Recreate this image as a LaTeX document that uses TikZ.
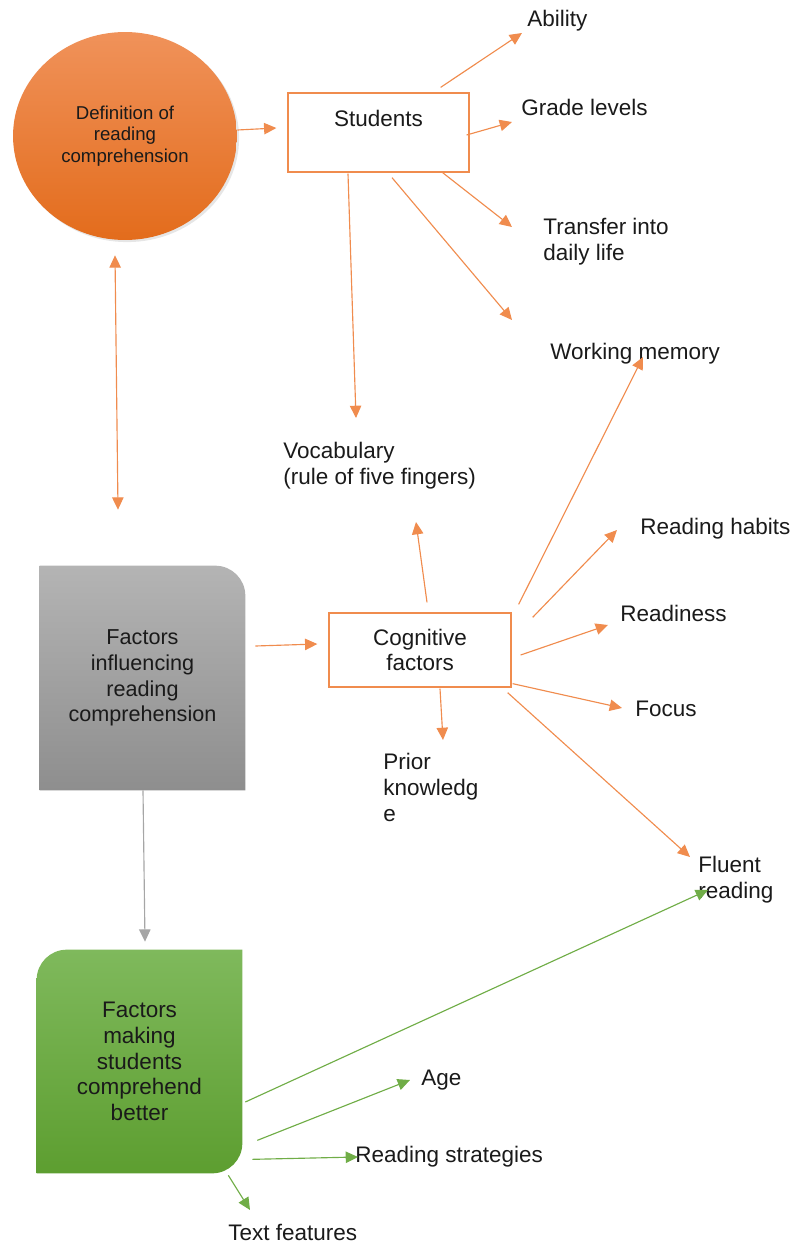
\documentclass[tikz,border=0pt]{standalone}
\usepackage{fontspec}
\setmainfont{Liberation Sans}
\usetikzlibrary{shapes.geometric,arrows.meta,calc,backgrounds,shadows}
\definecolor{RCOrange}   {HTML}{F08C4E}
\definecolor{RCOrangeTop}{HTML}{F0925A}
\definecolor{RCOrangeBot}{HTML}{E36C1C}
\definecolor{RCGrayTop}  {HTML}{B4B4B4}
\definecolor{RCGrayBot}  {HTML}{8E8E8E}
\definecolor{RCGreen}    {HTML}{70AD47}
\definecolor{RCGreenTop} {HTML}{7FB95C}
\definecolor{RCGreenBot} {HTML}{5D9E30}
\definecolor{RCLine}     {HTML}{A6A6A6}
\definecolor{RCText}     {HTML}{1A1A1A}

\begin{document}
\begin{tikzpicture}[x=0.02cm,y=-0.02cm,
    lbl/.style={font=\fontsize{12.8}{14.7}\selectfont,text=RCText,inner sep=0pt,anchor=west,align=left,yshift=-1.7pt},
    obox/.style={draw=RCOrange,line width=0.75pt,inner sep=0pt,font=\fontsize{12.8}{14.7}\selectfont,text=RCText,align=center},
    sbox/.style={inner sep=0pt,minimum width=4.1cm,text=RCText,align=center},
    oarr/.style={-{Triangle[length=7pt,width=6.5pt]},RCOrange,line width=0.65pt},
    garr/.style={-{Triangle[length=7pt,width=6.5pt]},RCGreen,line width=0.65pt},
    karr/.style={-{Triangle[length=7pt,width=6.5pt]},RCLine,line width=0.65pt}
  ]
    \useasboundingbox (0,0) rectangle (792,1245);

    \node[ellipse,minimum width=4.48cm,minimum height=4.16cm,inner sep=0pt,
      top color=RCOrangeTop,bottom color=RCOrangeBot,
      drop shadow={opacity=0.2,shadow xshift=1.2pt,shadow yshift=-1.2pt},
      font=\fontsize{10.6}{12.3}\selectfont,text=RCText,align=center]
      (defn) at (125,136) {Definition of\\reading\\comprehension};
    \node[obox,minimum width=3.62cm,minimum height=1.58cm] (stud) at (378.5,132.5) {};
    \node[lbl,anchor=center,yshift=0pt] (studtxt) at (378.5,115) {Students};
    \node[obox,minimum width=3.64cm,minimum height=1.48cm] (cogn) at (420,650) {Cognitive\\factors};
    \node[sbox,minimum height=4.48cm,font=\fontsize{12.3}{14.7}\selectfont]
      (infl) at (142.5,678) {Factors\\influencing\\reading\\comprehension};
    \node[sbox,minimum height=4.46cm,font=\fontsize{12.8}{14.7}\selectfont]
      (better) at (139.5,1061.5) {Factors\\making\\students\\comprehend\\better};

    \begin{scope}[on background layer]
      \shade[top color=RCGrayTop,bottom color=RCGrayBot]
        (infl.south west) -- (infl.north west) -- ([xshift=-0.6cm]infl.north east)
        .. controls ([xshift=-0.27cm]infl.north east) and ([yshift=-0.27cm]infl.north east) ..
        ([yshift=-0.6cm]infl.north east) -- (infl.south east) -- cycle;
      \shade[top color=RCGreenTop,bottom color=RCGreenBot]
        (better.south west) -- ([yshift=-0.6cm]better.north west)
        .. controls ([yshift=-0.27cm]better.north west) and ([xshift=0.27cm]better.north west) ..
        ([xshift=0.6cm]better.north west) -- (better.north east) -- ([yshift=0.6cm]better.south east)
        .. controls ([yshift=0.27cm]better.south east) and ([xshift=-0.27cm]better.south east) ..
        ([xshift=-0.6cm]better.south east) -- cycle;
    \end{scope}

    \node[lbl] (abil)   at (527,18)    {Ability};
    \node[lbl] (grade)  at (521,104)   {Grade levels};
    \node[lbl] (transf) at (543,239)   {Transfer into\\daily life};
    \node[lbl] (wmem)   at (550,351)   {Working memory};
    \node[lbl] (vocab)  at (283,463)   {Vocabulary\\(rule of five fingers)};
    \node[lbl] (habit)  at (640,526)   {Reading habits};
    \node[lbl] (ready)  at (620,610)   {Readiness};
    \node[lbl] (focus)  at (635,706)   {Focus};
    \node[lbl] (prior)  at (383,784.5) {Prior\\knowledg\\e};
    \node[lbl] (fluent) at (698,876.5) {Fluent\\reading};
    \node[lbl] (age)    at (421,1077)  {Age};
    \node[lbl] (strat)  at (355,1154)  {Reading strategies};
    \node[lbl] (textf)  at (228,1229)  {Text features};

    \draw[oarr] ($(defn.east)+(0,-6)$) -- ($(stud.west)+(-11,-4.5)$);
    \draw[oarr,{Triangle[length=7pt,width=6.5pt]}-{Triangle[length=7pt,width=6.5pt]}]
      ($(defn.south)+(-10,15)$) -- ($(infl.north)+(-24.5,-56)$);
    \draw[oarr] ($(stud.north east)+(-29,-5)$) -- ($(abil.west)+(-5,12)$);
    \draw[oarr] ($(stud.east)+(-3,2.5)$) -- ($(grade.west)+(-9,15)$);
    \draw[oarr] ($(stud.south east)+(-27,0)$) -- ($(transf.west)+(-31,-15)$);
    \draw[oarr] ($(stud.south)+(13.5,5)$) -- ($(wmem.west)+(-38,-34)$);
    \draw[oarr] ($(stud.south)+(-30.5,1)$) -- ($(vocab.west)+(73,-48)$);

    \draw[oarr] ($(infl.east)+(10,-32)$) -- ($(cogn.west)+(-11,-6)$);
    \draw[oarr] ($(cogn.north)+(7,-10)$) -- ($(vocab.west)+(133,56)$);
    \draw[oarr] ($(cogn.north east)+(7,-8)$) -- ($(wmem.west)+(93,3)$);
    \draw[oarr] ($(cogn.north east)+(21,5)$) -- ($(habit.west)+(-23,1)$);
    \draw[oarr] ($(cogn.east)+(9,5)$) -- ($(ready.west)+(-12,12)$);
    \draw[oarr] ($(cogn.south east)+(1,-4)$) -- ($(focus.west)+(-13,-1)$);
    \draw[oarr] ($(cogn.south)+(20,1)$) -- ($(prior.west)+(60,-47.5)$);
    \draw[oarr] ($(cogn.south east)+(-4,5)$) -- ($(fluent.west)+(-8,-22.5)$);

    \draw[karr] ($(infl.south)+(0.5,0)$) -- ($(better.north)+(5.5,-8)$);

    \draw[garr] ($(better.east)+(3,40.5)$) -- ($(fluent.west)+(10,10.5)$);
    \draw[garr] ($(better.south east)+(15,-33)$) -- ($(age.west)+(-11,0)$);
    \draw[garr] ($(better.south east)+(10,-14)$) -- ($(strat.west)+(3,0)$);
    \draw[garr] ($(better.south east)+(-14,2)$) -- ($(textf.west)+(22,-22)$);
  \end{tikzpicture}
\end{document}
